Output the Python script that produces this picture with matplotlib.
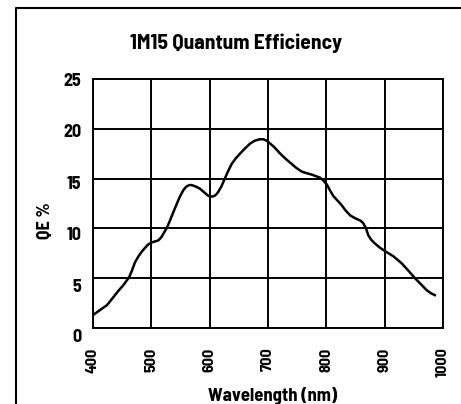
import matplotlib
matplotlib.use("Agg")
import matplotlib.pyplot as plt
from matplotlib.lines import Line2D
from matplotlib.transforms import ScaledTranslation

# QE curve
wavelength = [400, 412, 424, 435, 443, 452, 462, 467, 472, 478, 484, 490, 495, 501, 507, 512,
              517, 521, 527, 532, 541, 549, 555, 560, 565, 569, 574, 578, 583, 588, 593, 597,
              601, 605, 609, 612, 615, 620, 626, 632, 638, 645, 652, 660, 669, 677, 686, 692,
              698, 704, 710, 721, 730, 738, 748, 758, 766, 775, 782, 789, 795, 801, 806, 812,
              819, 826, 833, 841, 850, 858, 863, 868, 872, 877, 883, 891, 901, 915, 929, 940,
              952, 962, 972, 979, 986]
qe = [1.3, 1.8, 2.3, 3.1, 3.7, 4.3, 5.1, 5.8, 6.6, 7.2, 7.7, 8.1, 8.4, 8.6, 8.7, 8.8,
      9.1, 9.5, 10.1, 10.8, 12.1, 13.2, 13.85, 14.2, 14.35, 14.35, 14.25, 14.15, 14.0, 13.75, 13.5, 13.3,
      13.2, 13.2, 13.3, 13.45, 13.7, 14.2, 15.0, 15.8, 16.5, 17.05, 17.5, 18.0, 18.5, 18.8, 18.95, 18.95,
      18.8, 18.5, 18.2, 17.5, 17.0, 16.6, 16.1, 15.7, 15.55, 15.4, 15.25, 15.1, 14.8, 14.4, 13.85, 13.25,
      12.8, 12.35, 11.8, 11.3, 11.0, 10.8, 10.55, 10.0, 9.3, 8.85, 8.5, 8.1, 7.7, 7.2, 6.5, 5.8,
      5.0, 4.4, 3.8, 3.5, 3.3]
xticks = [400, 500, 600, 700, 800, 900, 1000]
yticks = [0, 5, 10, 15, 20, 25]

plt.rcParams['font.family'] = ['Barlow Semi Condensed', 'Barlow Condensed', 'DejaVu Sans']
plt.rcParams['font.weight'] = 'bold'

W, H = 461, 404
fig = plt.figure(figsize=(W / 100, H / 100), dpi=100)
ax = fig.add_axes([93 / W, 1 - 328 / H, 350 / W, 249 / H])

ax.plot(wavelength, qe, color='black', lw=1.8, solid_joinstyle='round')
ax.set_xlim(400, 1000)
ax.set_ylim(0, 25)
ax.set_xticks(xticks)
ax.set_yticks(yticks)
ax.set_xticklabels([str(t) for t in xticks], rotation=90, fontsize=11.5)
ax.set_yticklabels([str(t) for t in yticks], fontsize=13)
ax.tick_params(length=0)
ax.tick_params(axis='y', pad=8.5)
ax.tick_params(axis='x', pad=14)
ax.grid(True, color='black', lw=1.4)
for s in ax.spines.values():
    s.set_linewidth(1.4)

# the y labels in the original sit a little below their grid lines
for lab, dy in zip(ax.get_yticklabels(), [8, 7, 5, 4, 2, 1]):
    lab.set_transform(lab.get_transform() + ScaledTranslation(0, -dy / 100, fig.dpi_scale_trans))

fig.text(236 / W, 1 - 43 / H, '1M15 Quantum Efficiency', ha='center', va='center',
         fontsize=15.5, fontweight='bold')
fig.text(273 / W, 1 - 396 / H, 'Wavelength (nm)', ha='center', va='center',
         fontsize=13.5, fontweight='bold')
fig.text(45 / W, 1 - 221 / H, 'QE %', ha='center', va='center', rotation=90,
         fontsize=13, fontweight='bold')

# outer frame (cropped at right and bottom)
fig.add_artist(Line2D([16 / W, 16 / W, 1], [0, 1 - 8 / H, 1 - 8 / H],
                      transform=fig.transFigure, color='black', lw=1.5))

fig.savefig('out.png', dpi=100)
